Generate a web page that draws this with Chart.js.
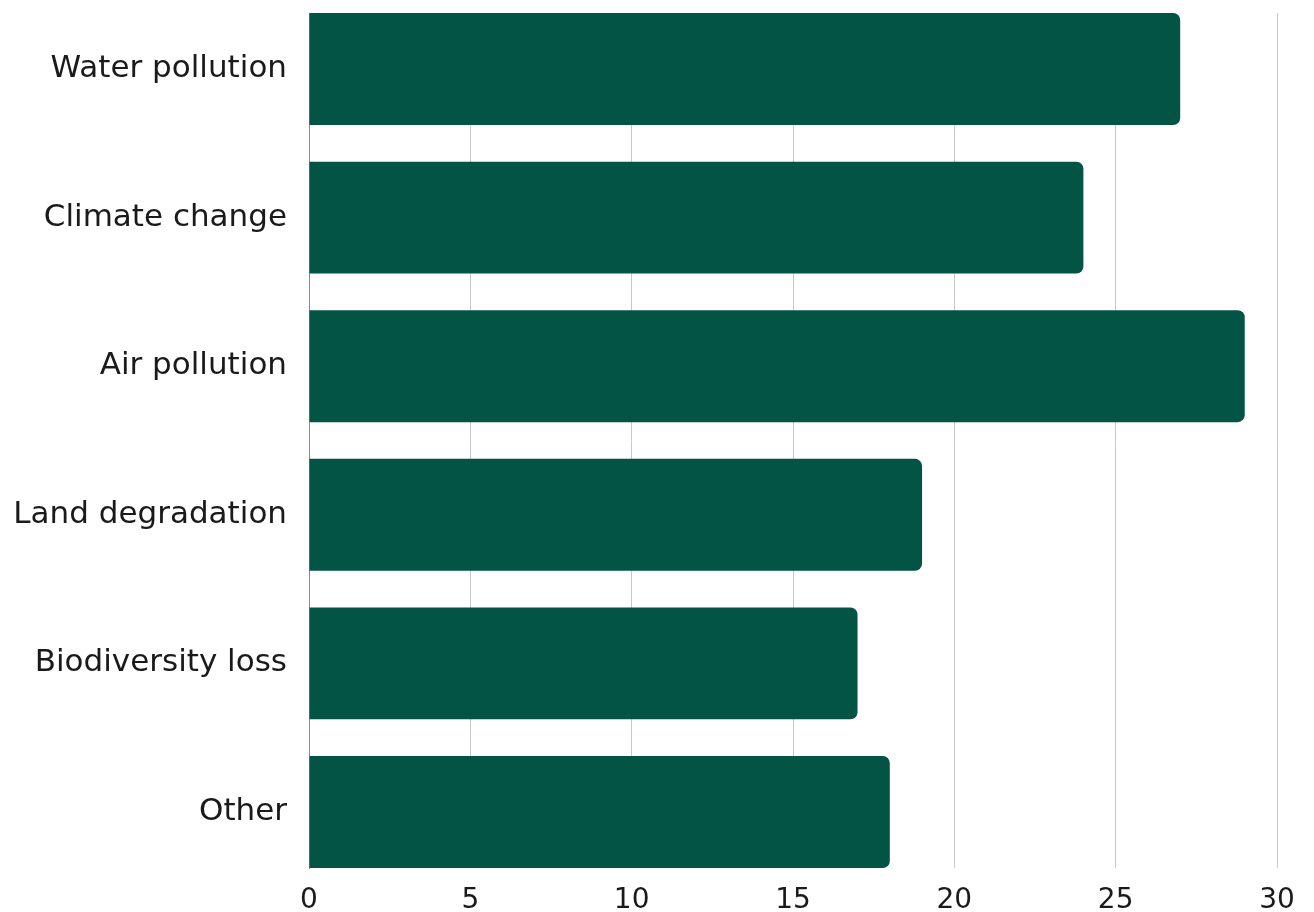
<!DOCTYPE html>
<html>
<head>
<meta charset="utf-8">
<script src="https://cdn.jsdelivr.net/npm/chart.js@4/dist/chart.umd.min.js"></script>
<style>
  html, body { margin: 0; padding: 0; background: #fff; }
  #wrap { width: 1314px; height: 912px; }
</style>
</head>
<body>
<div id="wrap"><canvas id="issuesChart" width="1314" height="912"></canvas></div>
<script>
const categories = ['Water pollution', 'Climate change', 'Air pollution', 'Land degradation', 'Biodiversity loss', 'Other'];
const values = [27, 24, 29, 19, 17, 18];
const xTicks = [0, 5, 10, 15, 20, 25, 30];

document.addEventListener("DOMContentLoaded", function () {
    const ctx = document.getElementById('issuesChart').getContext('2d');
    new Chart(ctx, {
        type: 'bar',
        data: {
            datasets: [{
                data: values.map((v, i) => ({ x: v, y: i })),
                backgroundColor: '#035445',
                borderRadius: 7,
                borderSkipped: 'start',
                barPercentage: 0.753,
                categoryPercentage: 1
            }]
        },
        options: {
            indexAxis: 'y',
            responsive: false,
            animation: false,
            layout: { padding: { top: 13, right: 37, left: 0, bottom: 0 } },
            plugins: { legend: { display: false }, tooltip: { enabled: false } },
            scales: {
                x: {
                    type: 'linear',
                    min: xTicks[0],
                    max: xTicks[xTicks.length - 1],
                    afterBuildTicks: axis => { axis.ticks = xTicks.map(v => ({ value: v })); },
                    grid: { color: '#c8c8c8', lineWidth: 1, drawTicks: false },
                    border: { display: false },
                    ticks: {
                        color: '#1a1a1a',
                        padding: 16,
                        font: { family: 'DejaVu Sans', size: 28 }
                    },
                    afterFit: axis => { axis.height = 44; }
                },
                y: {
                    type: 'linear',
                    offset: false,
                    bounds: 'data',
                    reverse: true,
                    min: -0.377,
                    max: 5.377,
                    afterBuildTicks: axis => { axis.ticks = categories.map((c, i) => ({ value: i })); },
                    grid: { display: false, drawTicks: false, offset: false },
                    border: { display: true, color: '#8a8a8a', width: 1 },
                    ticks: {
                        color: '#1a1a1a',
                        padding: 22,
                        font: { family: 'DejaVu Sans', size: 31 },
                        callback: v => categories[v]
                    },
                    afterFit: axis => {
                        axis.width = 309;
                        axis.paddingTop = 0;
                        axis.paddingBottom = 0;
                    }
                }
            }
        }
    });
});
</script>
</body>
</html>
